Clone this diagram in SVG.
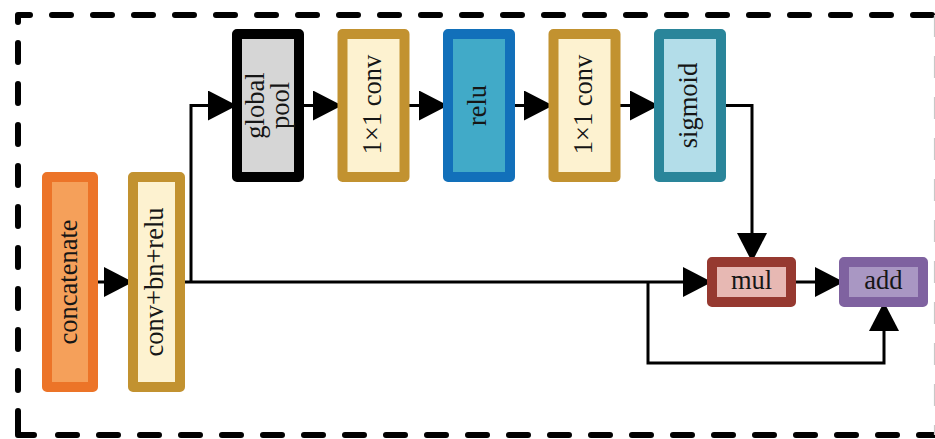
<svg xmlns="http://www.w3.org/2000/svg" width="935" height="439" viewBox="0 0 935 439">
  <defs>
    <marker id="arrow" markerUnits="userSpaceOnUse" markerWidth="30" markerHeight="30" refX="29" refY="15" orient="auto" viewBox="0 0 30 30">
      <path d="M0,0 L29,15 L0,30 Z" fill="#000"/>
    </marker>
    <style>
      .frame { fill: none; stroke: #000; stroke-width: 6; stroke-linecap: round; stroke-linejoin: round; }
      .dash { stroke-dasharray: 19 22; }
      .box { stroke-width: 10; stroke-linejoin: round; }
      .lbl { font-family: "Liberation Serif", "Times New Roman", serif; font-size: 26.5px; fill: #161616; text-anchor: middle; }
      .wire { fill: none; stroke: #000; stroke-width: 3; stroke-linejoin: miter; }
      .arr { marker-end: url(#arrow); }
    </style>
  </defs>

  <!-- dashed enclosing frame -->
  <g id="frame">
    <path class="frame dash" d="M18 22 V15 H935"/>
    <path class="frame dash" d="M18 22 V409" stroke-dashoffset="20"/>
    <path class="frame" d="M18 411 V435 H34"/>
    <path class="frame dash" d="M58 435 H935"/>
    <path d="M934.5 15 V435" fill="none" stroke="#c8c8c8" stroke-width="1.2" stroke-dasharray="22 19"/>
  </g>

  <!-- connectors -->
  <g id="connectors">
    <path class="wire arr" d="M93 282 H133"/>
    <path class="wire arr" d="M180 282 H712"/>
    <path class="wire arr" d="M191 282 V105.5 H237"/>
    <path class="wire arr" d="M300 105.5 H342"/>
    <path class="wire arr" d="M404 105.5 H448"/>
    <path class="wire arr" d="M510 105.5 H553"/>
    <path class="wire arr" d="M615 105.5 H659"/>
    <path class="wire arr" d="M720 105.5 H752 V262"/>
    <path class="wire arr" d="M790 282 H844"/>
    <path class="wire arr" d="M648 282 V363 H884 V302"/>
  </g>

  <g id="concatenate">
    <rect class="box" x="47" y="177" width="46" height="210" fill="#F5A05A" stroke="#EC7428"/>
    <text class="lbl" transform="translate(76.5,282) rotate(-90)">concatenate</text>
  </g>

  <g id="conv-bn-relu">
    <rect class="box" x="133" y="177" width="47" height="210" fill="#FDF2D0" stroke="#C29230"/>
    <text class="lbl" transform="translate(163,282) rotate(-90)">conv+bn+relu</text>
  </g>

  <g id="global-pool">
    <rect class="box" x="237" y="34" width="62" height="143" fill="#D6D6D6" stroke="#000"/>
    <text class="lbl" transform="translate(263.5,105.5) rotate(-90)">global</text>
    <text class="lbl" transform="translate(289,105.5) rotate(-90)">pool</text>
  </g>

  <g id="conv1x1-a">
    <rect class="box" x="342.5" y="34" width="62" height="143" fill="#FDF2D0" stroke="#C29230"/>
    <text class="lbl" transform="translate(380.5,104.5) rotate(-90)">1×1 conv</text>
  </g>

  <g id="relu">
    <rect class="box" x="448" y="34" width="62" height="143" fill="#41AAC8" stroke="#1270BA"/>
    <text class="lbl" transform="translate(485.5,105.5) rotate(-90)">relu</text>
  </g>

  <g id="conv1x1-b">
    <rect class="box" x="553.5" y="34" width="62" height="143" fill="#FDF2D0" stroke="#C29230"/>
    <text class="lbl" transform="translate(591.5,104.5) rotate(-90)">1×1 conv</text>
  </g>

  <g id="sigmoid">
    <rect class="box" x="659" y="34" width="62" height="143" fill="#B3DDE9" stroke="#2A859A"/>
    <text class="lbl" transform="translate(696.5,105.5) rotate(-90)">sigmoid</text>
  </g>

  <g id="mul">
    <rect class="box" x="712" y="262" width="79" height="40" fill="#E7B8B3" stroke="#963930"/>
    <text class="lbl" x="751.5" y="289">mul</text>
  </g>

  <g id="add">
    <rect class="box" x="844" y="262" width="79" height="40" fill="#A997C3" stroke="#7F62A0"/>
    <text class="lbl" x="883.5" y="289">add</text>
  </g>
</svg>
